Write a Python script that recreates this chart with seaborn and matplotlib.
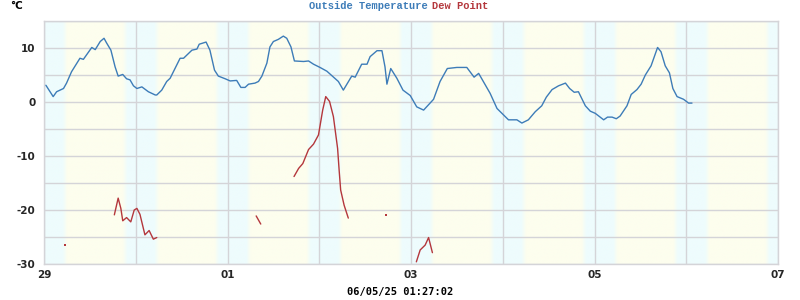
import numpy as np
import pandas as pd
import matplotlib
matplotlib.use("Agg")
import matplotlib.pyplot as plt
import matplotlib.dates as mdates
import seaborn as sns

# ---------------- data ----------------
start = pd.Timestamp("2025-04-29 00:00")
temp_hours = [0.5, 2.4, 3.3, 5.1, 5.9, 7.2, 9.4, 10.3, 12.5, 13.4, 14.7, 15.7, 16.4, 17.5,
              18.6, 19.4, 20.6, 21.6, 22.5, 23.4, 24.3, 25.6, 27.3, 29.1, 29.5, 30.8, 32.1,
              33.0, 35.6, 36.5, 38.7, 40.0, 40.6, 42.4, 43.4, 44.6, 45.6, 47.4, 48.7, 50.4,
              51.5, 52.6, 53.5, 55.2, 56.1, 57.0, 58.3, 59.1, 60.0, 61.3, 62.6, 63.5, 64.6,
              65.5, 67.9, 69.2, 70.5, 72.2, 74.0, 77.0, 78.3, 80.5, 81.4, 83.1, 84.5, 85.3,
              87.1, 88.4, 89.2, 89.7, 90.7, 92.3, 93.9, 95.8, 97.5, 99.3, 101.9, 103.6, 105.5,
              108.0, 110.6, 112.5, 113.7, 116.7, 118.5, 121.5, 123.7, 125.0, 126.7, 128.5,
              130.2, 131.4, 132.9, 134.6, 136.4, 137.5, 138.7, 139.8, 141.6, 142.9, 144.2,
              146.4, 147.4, 148.6, 149.7, 150.7, 152.5, 153.6, 155.1, 156.2, 157.3, 158.8,
              160.5, 161.4, 162.5, 163.6, 164.5, 165.6, 167.3, 168.6, 169.5]
temp_values = [3.1, 1.0, 1.9, 2.5, 3.5, 5.6, 8.1, 7.9, 10.1, 9.7, 11.2, 11.8, 10.9, 9.6,
               6.5, 4.8, 5.1, 4.3, 4.1, 3.0, 2.5, 2.8, 1.9, 1.3, 1.3, 2.2, 3.8,
               4.4, 8.1, 8.1, 9.6, 9.8, 10.7, 11.1, 9.6, 5.9, 4.8, 4.3, 3.9, 4.0,
               2.7, 2.7, 3.3, 3.5, 3.8, 4.8, 7.2, 10.2, 11.2, 11.6, 12.2, 11.8, 10.2,
               7.6, 7.5, 7.6, 7.0, 6.4, 5.7, 3.8, 2.2, 4.8, 4.6, 7.0, 7.0, 8.4,
               9.5, 9.5, 6.5, 3.3, 6.2, 4.4, 2.2, 1.2, -0.9, -1.5, 0.5, 3.8, 6.2,
               6.4, 6.4, 4.6, 5.3, 1.6, -1.2, -3.3, -3.3, -3.9, -3.3, -1.8,
               -0.7, 0.9, 2.3, 3.0, 3.5, 2.5, 1.8, 1.9, -0.7, -1.7, -2.1,
               -3.3, -2.8, -2.8, -3.1, -2.6, -0.7, 1.4, 2.3, 3.3, 5.0, 6.7,
               10.1, 9.3, 6.7, 5.4, 2.5, 1.0, 0.5, -0.2, -0.2]

# dew point: separate segments (gaps between them)
dew_hours = [
    [5.6],
    [18.4, 19.4, 20.1, 20.6, 21.6, 22.7, 23.6, 24.3, 25.1, 26.4, 27.5, 28.6, 29.5],
    [55.5, 56.7],
    [65.4, 66.6, 67.7, 69.2, 70.5, 71.8, 72.9, 73.7, 74.7, 75.7, 76.8, 77.2, 77.6, 78.5, 79.6],
    [89.5],
    [97.4, 98.4, 99.7, 100.6, 101.6],
]
dew_values = [
    [-26.4],
    [-20.9, -17.8, -19.7, -22.0, -21.4, -22.2, -20.0, -19.7, -20.8, -24.6, -23.8, -25.4, -25.1],
    [-21.1, -22.6],
    [-13.8, -12.3, -11.4, -8.8, -7.8, -6.1, -1.5, 1.0, 0.1, -2.7, -8.6, -12.6, -16.3, -19.1, -21.5],
    [-21.0],
    [-29.6, -27.4, -26.5, -25.1, -27.9],
]

x_tick_dates = ["2025-04-29", "2025-05-01", "2025-05-03", "2025-05-05", "2025-05-07"]
x_tick_labels = ["29", "01", "03", "05", "07"]
y_ticks = [-30, -20, -10, 0, 10]
sunrise_h, sunset_h = 5.5, 21.2
timestamp = "06/05/25 01:27:02"

# ---------------- styling ----------------
TEMP_C = "#3d7cb8"
DEW_C = "#b4373c"
GRID_C = "#d4d4d8"
DAY_C = np.array([0xfd, 0xfe, 0xee]) / 255
NIGHT_C = np.array([0xee, 0xfc, 0xfd]) / 255

sns.set_theme(style="white")
plt.rcParams["font.family"] = ["DejaVu Sans"]

fig = plt.figure(figsize=(8, 3), dpi=100)
ax = fig.add_axes([44 / 800, 1 - 264 / 300, 734 / 800, 243 / 300])

x0 = mdates.date2num(pd.Timestamp(x_tick_dates[0]))
x1 = mdates.date2num(pd.Timestamp(x_tick_dates[-1]))

# day / night background
tgrid = np.arange(0, (x1 - x0) * 24, 0.05)
hod = tgrid % 24
f = np.clip((hod - sunrise_h) / 1.2 + 0.5, 0, 1) * np.clip((sunset_h - hod) / 1.2 + 0.5, 0, 1)
cols = NIGHT_C[None, :] + f[:, None] * (DAY_C - NIGHT_C)[None, :]
ax.imshow(cols[None, :, :], extent=[x0, x1, -30, 15], aspect="auto",
          interpolation="bilinear", zorder=0)

# temperature
tdf = pd.DataFrame({"time": start + pd.to_timedelta(temp_hours, unit="h"),
                    "temp": temp_values})
sns.lineplot(data=tdf, x="time", y="temp", color=TEMP_C, lw=1.0, ax=ax, zorder=3)

# dew point
for hrs, vals in zip(dew_hours, dew_values):
    ddf = pd.DataFrame({"time": start + pd.to_timedelta(hrs, unit="h"), "dew": vals})
    if len(hrs) > 1:
        sns.lineplot(data=ddf, x="time", y="dew", color=DEW_C, lw=1.0, ax=ax, zorder=3)
    else:
        sns.scatterplot(data=ddf, x="time", y="dew", color=DEW_C, s=2, marker="s",
                        linewidth=0, ax=ax, zorder=3)

ax.set_xlim(x0, x1)
ax.set_ylim(-30, 15)

ax.xaxis.set_major_locator(mdates.DayLocator())
ax.xaxis.set_minor_locator(mdates.DayLocator())
ax.set_xticks([mdates.date2num(pd.Timestamp(d)) for d in x_tick_dates])
ax.set_xticklabels(x_tick_labels)
ax.set_xticks(mdates.date2num(pd.date_range(x_tick_dates[0], x_tick_dates[-1], freq="D")),
              minor=True)
ax.set_yticks(y_ticks)
ax.set_yticklabels([str(v) for v in y_ticks])
ax.set_yticks(np.arange(-30, 16, 5), minor=True)

ax.grid(which="minor", color=GRID_C, lw=1.0, zorder=1)
ax.grid(which="major", color=GRID_C, lw=1.0, zorder=1)
ax.set_axisbelow(False)
for line in ax.get_xgridlines() + ax.get_ygridlines():
    line.set_zorder(1)
ax.tick_params(which="both", length=0)
ax.tick_params(axis="x", pad=4, labelsize=7.5)
ax.tick_params(axis="y", pad=6, labelsize=7.5)
for lab in ax.get_xticklabels() + ax.get_yticklabels():
    lab.set_fontweight("bold")
ax.set_xlabel("")
ax.set_ylabel("")
for sp in ax.spines.values():
    sp.set_color(GRID_C)
    sp.set_linewidth(1.0)

# texts
fig.text(428 / 800, 1 - 6 / 300, "Outside Temperature", color=TEMP_C, ha="right", va="center",
         family="Liberation Mono", fontweight="bold", fontsize=7.5)
fig.text(432 / 800, 1 - 6 / 300, "Dew Point", color=DEW_C, ha="left", va="center",
         family="Liberation Mono", fontweight="bold", fontsize=7.5)
fig.text(10 / 800, 1 - 6 / 300, "°C", color="black", ha="left", va="center",
         fontweight="bold", fontsize=7.5)
fig.text(400 / 800, 1 - 292 / 300, timestamp, color="black", ha="center", va="center",
         family="DejaVu Sans Mono", fontweight="bold", fontsize=7.5)

fig.savefig("out.png", dpi=100)
